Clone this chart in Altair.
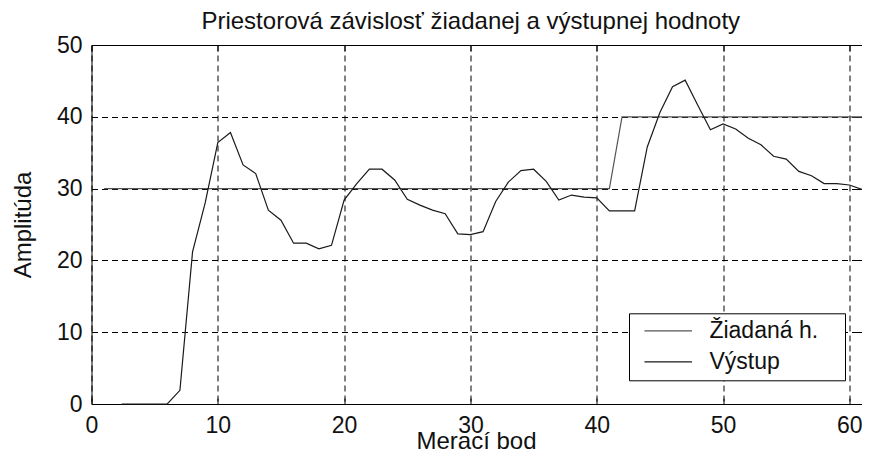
import altair as alt
import pandas as pd

# ---- data ----
series_names = ["Žiadaná h.", "Výstup"]
series_colors = ["#555555", "#1a1a1a"]

x_set = [1, 41, 42, 61]
y_set = [30, 30, 40, 40]

x_out = [2.4, 3, 4, 5, 6, 7, 8, 9, 10, 11, 12, 13, 14, 15, 16, 17, 18, 19, 20,
         21, 22, 23, 24, 25, 26, 27, 28, 29, 30, 31, 32, 33, 34, 35, 36, 37, 38,
         39, 40, 41, 42, 43, 44, 45, 46, 47, 48, 49, 50, 51, 52, 53, 54, 55, 56,
         57, 58, 59, 60, 61]
y_out = [0, 0, 0, 0, 0, 1.9, 21.2, 28.0, 36.4, 37.8, 33.3, 32.1, 27.0, 25.6, 22.4,
         22.4, 21.6, 22.1, 28.4, 30.7, 32.7, 32.7, 31.2, 28.5, 27.7, 27.0, 26.5,
         23.7, 23.6, 24.0, 28.2, 30.9, 32.5, 32.7, 31.0, 28.4, 29.1, 28.8, 28.7,
         26.9, 26.9, 26.9, 35.8, 40.6, 44.2, 45.1, 41.6, 38.2, 39.0, 38.3, 37.0,
         36.1, 34.5, 34.1, 32.4, 31.8, 30.7, 30.7, 30.5, 29.9]

x_ticks = [0, 10, 20, 30, 40, 50, 60]
y_ticks = [0, 10, 20, 30, 40, 50]
x_domain = [0, 61]
y_domain = [0, 50]

title_text = "Priestorová závislosť žiadanej a výstupnej hodnoty"
x_title = "Merací bod"
y_title = "Amplitúda"

df = pd.concat([
    pd.DataFrame({"x": x_set, "y": y_set, "series": series_names[0]}),
    pd.DataFrame({"x": x_out, "y": y_out, "series": series_names[1]}),
], ignore_index=True)

W, H = 770.5, 359
FONT = "Liberation Sans"
FS = 23
TFS = 24

xscale = alt.Scale(domain=x_domain, nice=False, zero=False)
yscale = alt.Scale(domain=y_domain, nice=False, zero=False)

main_x = alt.Axis(orient="bottom", values=x_ticks, grid=True, gridColor="black",
                  gridDash=[6, 4], gridWidth=1, gridOpacity=1, domain=False,
                  ticks=False, tickSize=0, labelFontSize=FS, labelFont=FONT,
                  labelColor="#111", labelBaseline="alphabetic", labelPadding=28.5,
                  labelFlush=False, title=x_title, titleFontSize=TFS, titleFont=FONT,
                  titleFontWeight="normal", titleColor="#111",
                  titleBaseline="alphabetic", titleY=44, titleX=384.5,
                  titleAlign="center")
main_y = alt.Axis(orient="left", values=y_ticks, grid=True, gridColor="black",
                  gridDash=[6, 4], gridWidth=1, gridOpacity=1, domain=False,
                  ticks=False, tickSize=0, labelFontSize=FS, labelFont=FONT,
                  labelColor="#111", labelPadding=9.5, labelFlush=False,
                  title=y_title, titleFontSize=TFS, titleFont=FONT,
                  titleFontWeight="normal", titleColor="#111",
                  titleBaseline="alphabetic", titleAngle=270, titleX=-61.5,
                  titleY=H / 2, titleAlign="center")


def tick_axis(orient, offset, values):
    return alt.Axis(orient=orient, offset=offset, values=values, labels=False,
                    domain=False, grid=False, ticks=True, tickSize=6,
                    tickColor="black", tickWidth=1, title=None)


base = alt.Chart(df)

lines = base.mark_line(strokeWidth=1.2).encode(
    x=alt.X("x:Q", scale=xscale, axis=main_x),
    y=alt.Y("y:Q", scale=yscale, axis=main_y),
    color=alt.Color(
        "series:N",
        scale=alt.Scale(domain=series_names, range=series_colors),
        sort=series_names,
        legend=alt.Legend(
            orient="none", legendX=537.5, legendY=268.3, title="\u00a0",
            titleOrient="right", titlePadding=21, titleFontSize=FS,
            fillColor="white", strokeColor="black", padding=6,
            symbolType="M-2.5,0H2.5", symbolSize=361, symbolStrokeWidth=1.2,
            symbolOffset=21.7, labelOffset=29.7, rowPadding=7,
            labelFontSize=FS, labelFont=FONT, labelColor="#111",
        ),
    ),
)

ticks_a = base.mark_line(opacity=0).encode(
    x=alt.X("x:Q", scale=xscale, axis=tick_axis("top", -H, x_ticks)),
    y=alt.Y("y:Q", scale=yscale, axis=tick_axis("right", -W, y_ticks)),
)
ticks_b = base.mark_line(opacity=0).encode(
    x=alt.X("x:Q", scale=xscale, axis=tick_axis("bottom", -H, x_ticks)),
    y=alt.Y("y:Q", scale=yscale, axis=tick_axis("left", -W, y_ticks)),
)

chart = alt.layer(lines, ticks_a, ticks_b).resolve_axis(
    x="independent", y="independent"
).properties(
    width=W, height=H,
    title=alt.TitleParams(title_text, fontSize=TFS, font=FONT, fontWeight="normal",
                          color="#111", anchor="middle", baseline="alphabetic",
                          offset=-19, dx=-6),
    autosize=alt.AutoSizeParams(type="none"),
    padding={"left": 83.5, "top": 37, "right": 0, "bottom": 48},
    background="white",
).configure_view(stroke="black", strokeWidth=1)

chart.save("out.html", embed_options={"renderer": "svg", "actions": False})
